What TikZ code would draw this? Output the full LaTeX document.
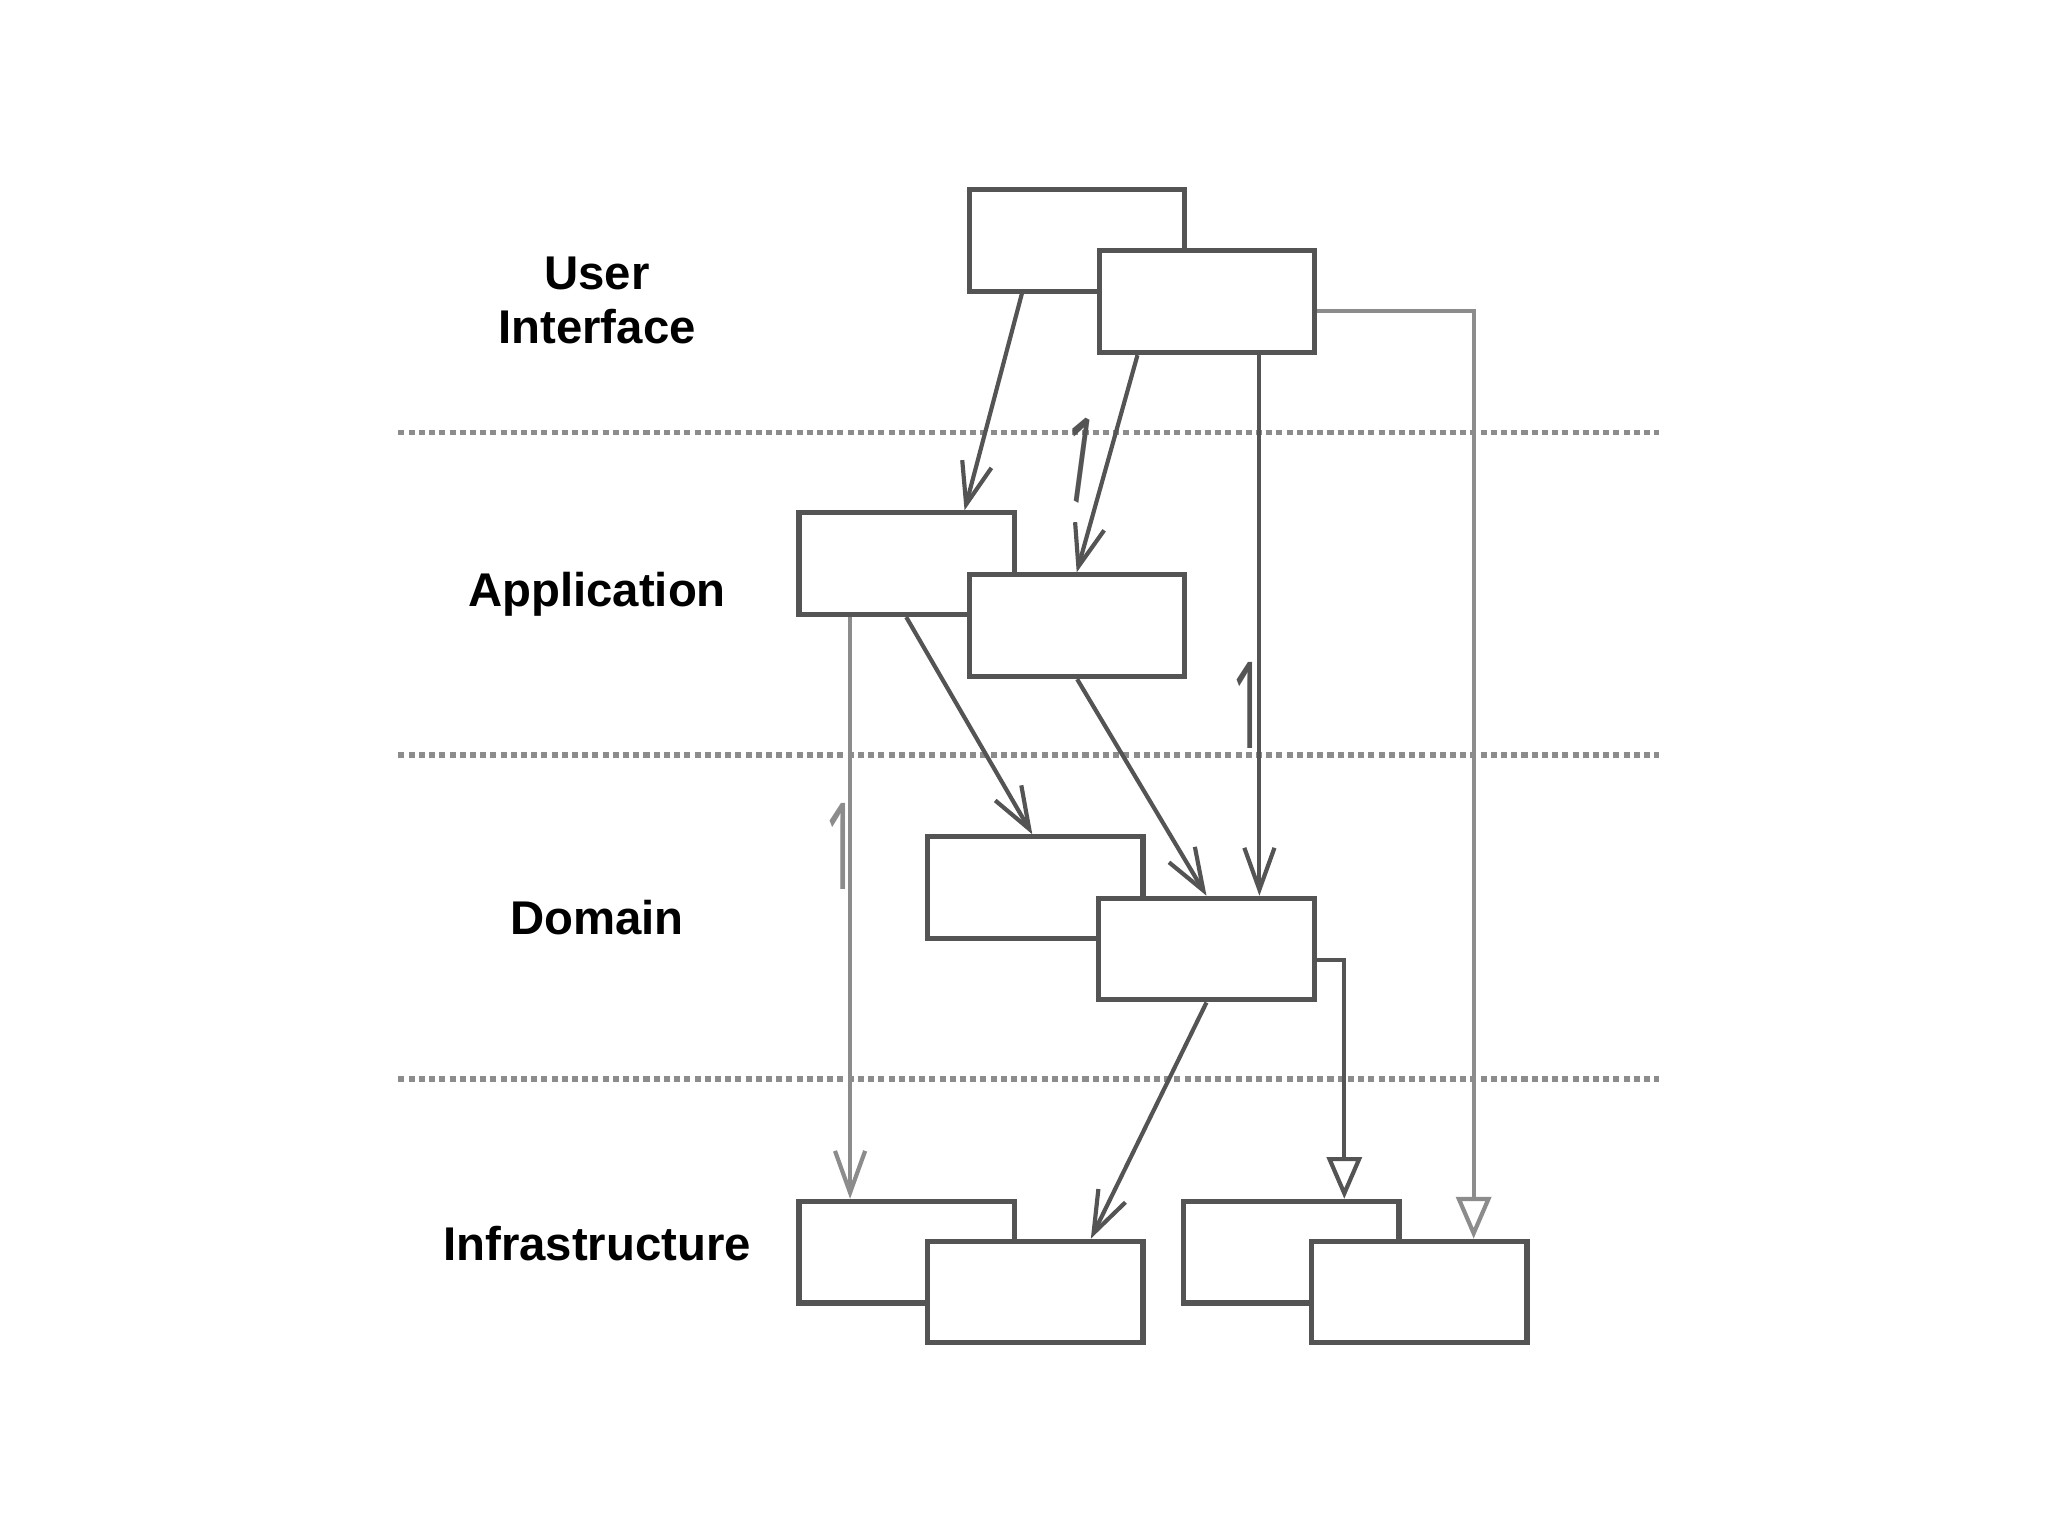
\documentclass[tikz,border=0pt]{standalone}
\usepackage{fontspec}
\setmainfont{Liberation Sans}
\newfontfamily\multfont{Open Sans}
\usepackage{xcolor}
\definecolor{ln}{rgb}{0.33,0.33,0.33}
\definecolor{lt}{rgb}{0.55,0.55,0.55}
\usepackage{tikz}
\usetikzlibrary{arrows.meta, positioning, calc}
\tikzstyle{block} = [draw=ln, line width=1.1pt, fill=white, rectangle, minimum width=1.63cm, minimum height=0.77cm, inner sep=0pt]
\tikzstyle{layer} = [font=\bfseries\fontsize{10.2}{11.6}\selectfont, align=center]
\tikzstyle{dep} = [draw=ln, line width=0.9pt, -{Straight Barb[length=9pt, width=6.5pt]}]
\tikzstyle{gen} = [draw=ln, line width=0.9pt, -{Triangle[open, length=9pt, width=7.5pt, fill=white]}]
\tikzstyle{mult} = [font=\multfont\fontsize{26}{26}\selectfont, text=ln, xscale=0.5, inner sep=0pt]

\begin{document}
\begin{tikzpicture}[x=0.01cm, y=-0.01cm]
    \useasboundingbox (0,0) rectangle (1552,1164);
  \begin{scope}[scale=0.99]
    % layer names
    \node[layer] (ui) at (457,230) {User\\Interface};
    \node[layer] (app) at (457,455) {Application};
    \node[layer] (dom) at (457,702) {Domain};
    \node[layer] (inf) at (457,952) {Infrastructure};

    % layer borders
    \foreach \y in {331,578,826}
        \draw[lt, line width=1.2pt, dash pattern=on 1.3pt off 0.9pt] (305,\y) -- (1270,\y);

    % boxes, back ones first
    \node[block] (ui1) at (824.5,184) {};
    \node[block] (ui2) at ($(ui1)+(99.5,47)$) {};
    \node[block] (app1) at (694,431.5) {};
    \node[block] (app2) at ($(app1)+(130.5,47.5)$) {};
    \node[block] (dom1) at (792.5,679.5) {};
    \node[block] (dom2) at ($(dom1)+(131,47)$) {};
    \node[block] (inf1) at (694,958.5) {};
    \node[block] (inf2) at ($(inf1)+(98.5,30.5)$) {};
    \node[block] (inf3) at (988.5,958.5) {};
    \node[block] (inf4) at ($(inf3)+(98,30.5)$) {};

    % user interface -> application
    \draw[dep] ($(ui1.south west)+(42,0)$) -- ($(app1.north east)+(-40,0)$);
    \draw[dep] ($(ui2.south west)+(31,0)$) -- ($(app2.north west)+(84,0)$);
    \node[mult, rotate=-15] (m1) at (827,352) {1};

    % user interface -> domain, infrastructure
    \coordinate (ui2o) at ($(ui2.south)+(40,0)$);
    \draw[dep] (ui2o) -- (ui2o |- dom2.north);
    \node[mult] (m2) at (956,540) {1};
    \coordinate (ui2r) at ($(ui2.east)+(0,7)$);
    \coordinate (inf4i) at ($(inf4.north)+(41.5,0)$);
    \draw[gen, draw=lt] (ui2r) -| (inf4i);

    % application -> domain, infrastructure
    \coordinate (app1o) at ($(app1.south west)+(41,0)$);
    \draw[dep, draw=lt] (app1o) -- (app1o |- inf1.north);
    \node[mult, text=lt] (m3) at (644,648) {1};
    \draw[dep] ($(app1.south west)+(84,0)$) -- ($(dom1.north west)+(82,0)$);
    \draw[dep] (app2.south) -- (dom2.north);

    % domain -> infrastructure
    \coordinate (dom2r) at ($(dom2.east)+(0,8.5)$);
    \coordinate (inf3i) at ($(inf3.north)+(40.5,0)$);
    \draw[gen] (dom2r) -| (inf3i);
    \draw[dep] (dom2.south) -- ($(inf2.north)+(42.5,0)$);
  \end{scope}
\end{tikzpicture}
\end{document}
